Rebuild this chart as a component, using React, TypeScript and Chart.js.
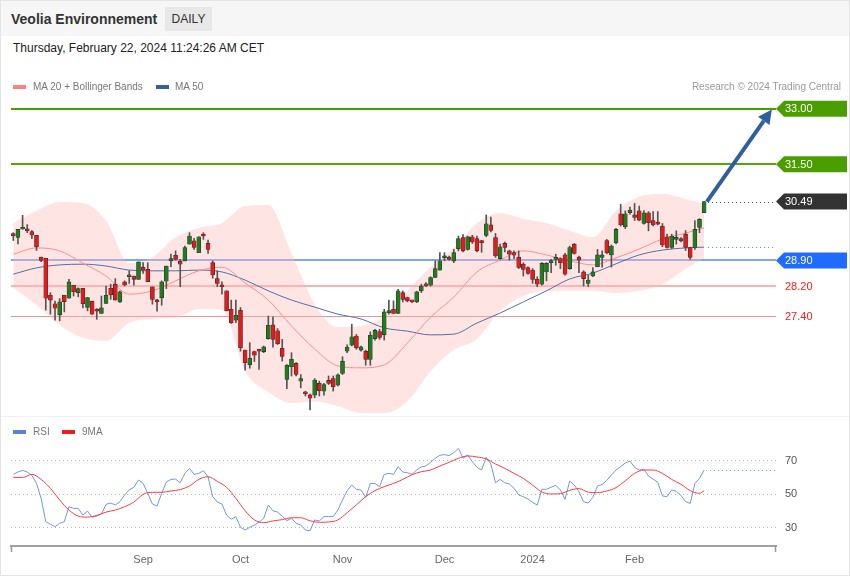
import React, { useEffect, useRef } from 'react';
import { Chart, registerables } from 'chart.js';

Chart.register(...registerables);

const FONT = "'Liberation Sans', Arial, Helvetica, sans-serif";
const NARROW = "'Liberation Sans Narrow', 'Arial Narrow', 'Liberation Sans', Arial, sans-serif";

// ---------- data ----------
const SLOTS = Array.from({ length: 165 }, (_, i) => i);

const OPEN = [29.60,29.52,29.75,29.74,29.68,29.58,28.99,28.96,27.96,27.73,27.43,27.96,27.88,28.23,28.03,28.15,27.63,27.80,27.58,27.47,27.74,28.15,28.26,27.78,28.32,28.46,28.48,28.39,28.72,28.66,28.19,27.81,27.89,28.34,28.89,29.04,28.88,28.89,29.34,29.43,29.11,29.60,29.36,28.84,28.41,28.23,28.08,27.58,27.29,27.55,26.48,26.08,26.44,26.48,26.44,26.79,27.16,27.00,26.53,25.69,26.03,26.12,25.64,25.33,25.27,25.26,25.58,25.37,25.66,25.71,25.53,25.85,26.45,26.61,26.86,26.48,26.45,26.23,26.79,26.98,26.89,27.49,27.58,27.47,28.03,27.90,27.80,27.78,28.08,28.27,28.23,28.44,28.64,28.97,28.99,28.89,29.22,29.52,29.20,29.54,29.49,29.40,29.58,29.86,29.52,28.95,29.36,29.16,29.11,28.99,28.80,28.71,28.64,28.39,28.26,28.59,28.84,28.93,28.95,29.05,28.68,29.34,28.99,28.59,28.28,28.48,28.73,28.98,29.44,29.05,29.38,30.16,29.81,30.19,30.13,30.24,29.90,30.19,29.98,29.93,29.83,29.54,29.25,29.47,29.49,29.61,29.25,29.25,29.79,30.19];
const HIGH = [29.65,29.74,30.12,29.87,29.71,29.58,28.99,28.96,28.03,27.80,27.87,27.96,28.39,28.23,28.16,28.15,27.90,27.80,27.60,27.94,28.21,28.26,28.41,28.08,28.35,28.62,28.48,28.86,28.84,28.84,28.19,27.85,28.35,28.75,29.07,29.16,28.93,29.29,29.65,29.50,29.54,29.65,29.45,28.89,28.62,28.32,28.08,27.83,27.83,27.63,26.48,26.68,26.45,26.50,26.59,27.40,27.38,27.06,26.77,26.09,26.41,26.14,25.82,25.37,25.29,25.71,25.64,25.58,25.78,25.78,25.84,26.30,26.62,27.18,26.90,26.59,26.48,26.97,27.04,27.04,27.58,27.83,27.81,28.12,28.08,27.91,27.82,28.07,28.26,28.30,28.46,28.89,29.11,29.11,29.02,29.20,29.56,29.60,29.56,29.58,29.56,29.44,30.13,30.07,29.63,29.34,29.40,29.18,29.16,29.16,28.84,28.73,28.68,28.46,28.84,28.84,28.93,29.07,28.97,29.09,29.29,29.36,29.02,28.62,28.50,28.71,29.20,29.16,29.47,29.32,29.77,30.42,30.24,30.34,30.44,30.37,30.25,30.22,30.22,30.22,29.90,29.61,29.61,29.70,29.52,29.71,29.26,29.98,30.03,30.49];
const LOW = [29.44,29.35,29.74,29.65,29.49,29.17,28.87,27.56,27.45,27.29,27.27,27.51,27.88,27.94,27.92,27.62,27.54,27.44,27.31,27.47,27.74,27.85,27.83,27.76,28.21,28.28,28.23,28.39,28.55,28.33,27.72,27.53,27.69,28.14,28.73,28.91,28.19,28.89,29.34,29.20,29.11,29.47,29.09,28.42,28.19,27.99,27.54,27.20,27.22,26.45,25.94,25.99,26.17,25.96,26.41,26.77,26.56,26.63,26.18,25.44,25.78,25.78,25.46,25.24,24.86,25.19,25.24,25.26,25.55,25.37,25.51,25.82,26.41,26.59,26.50,26.45,26.07,26.07,26.75,26.77,26.75,27.45,27.47,27.47,27.78,27.78,27.76,27.76,28.03,28.19,28.21,28.44,28.64,28.89,28.91,28.84,29.16,29.13,29.18,29.36,29.13,29.12,29.54,29.67,28.98,28.93,29.13,28.91,28.95,28.68,28.48,28.53,28.28,28.19,28.23,28.35,28.57,28.77,28.68,28.50,28.66,29.07,28.57,28.21,28.19,28.46,28.73,28.72,29.08,28.72,29.35,29.83,29.76,30.15,29.98,29.97,29.88,29.70,29.83,29.86,29.27,29.23,29.22,29.34,29.40,29.17,28.93,29.20,29.65,30.19];
const CLOSE = [29.57,29.74,29.77,29.70,29.59,29.27,28.90,27.88,27.83,27.61,27.78,27.79,28.32,28.05,28.14,27.73,27.90,27.45,27.53,27.62,27.96,27.97,27.83,28.05,28.24,28.48,28.39,28.86,28.64,28.33,27.85,27.78,28.32,28.75,28.95,28.93,28.80,29.25,29.56,29.25,29.54,29.56,29.20,28.51,28.28,28.19,27.54,27.22,27.42,26.54,26.14,26.26,26.34,26.45,26.57,27.15,26.77,26.65,26.31,26.07,26.23,25.82,25.71,25.30,25.18,25.67,25.38,25.55,25.58,25.49,25.81,26.18,26.56,26.84,26.54,26.57,26.23,26.88,27.01,26.82,27.51,27.52,27.47,28.08,27.85,27.81,27.78,28.05,28.21,28.21,28.44,28.68,28.89,29.01,28.93,29.11,29.49,29.16,29.54,29.40,29.16,29.38,29.89,29.71,29.02,29.27,29.25,29.07,29.04,28.71,28.66,28.55,28.39,28.26,28.82,28.82,28.90,28.97,28.84,28.53,29.25,29.09,28.91,28.41,28.37,28.59,29.05,29.05,29.11,29.29,29.74,29.86,30.16,30.26,30.06,29.99,30.19,29.92,29.86,29.88,29.32,29.25,29.56,29.50,29.43,29.25,28.98,29.74,30.01,30.49];

// sampled overlay curves (index -> value)
const BAND_IDX = [0,5,10,15,20,25,30,35,40,45,50,55,60,65,70,75,80,85,90,95,100,105,110,115,120,125,130,135,140,145,149];
const BB_UPPER = [29.91,30.24,30.48,30.45,29.97,28.83,28.99,29.53,29.78,29.91,30.37,30.40,29.10,27.72,27.10,27.13,27.40,28.08,28.72,29.24,29.90,30.18,30.02,29.91,29.70,29.53,30.24,30.62,30.70,30.56,30.43];
const BB_LOWER = [28.16,27.70,27.16,26.81,26.73,27.21,27.32,27.35,27.59,27.56,25.91,25.35,25.05,25.10,24.97,24.78,24.78,25.10,25.91,26.48,26.78,27.54,27.94,28.08,28.08,28.08,28.02,28.08,28.26,28.67,28.96];
const MA20 = [29.07,29.24,29.16,28.83,28.48,27.99,28.08,28.35,28.62,28.72,28.29,27.83,27.13,26.51,26.05,26.00,26.08,26.67,27.37,27.91,28.59,28.91,29.16,29.05,28.89,28.78,28.97,29.21,29.48,29.64,29.78];
const MA50 = [28.53,28.70,28.78,28.80,28.75,28.64,28.62,28.62,28.64,28.59,28.37,28.08,27.83,27.64,27.45,27.32,27.08,26.99,26.89,26.91,27.21,27.48,27.78,28.08,28.40,28.56,28.81,29.05,29.18,29.24,29.26];

const RSI = [61.6,63.0,64.0,63.0,61.0,56.2,47.3,33.4,31.8,30.4,32.4,33.4,42.3,41.3,41.3,37.3,39.7,36.0,36.7,37.9,43.7,44.5,43.3,45.3,49.3,52.3,53.9,58.2,56.2,50.3,43.9,42.7,50.3,57.0,58.6,58.8,56.6,62.2,65.2,61.6,62.2,63.8,60.2,48.3,45.1,43.9,37.3,34.8,36.4,30.0,28.4,30.0,31.4,33.0,35.4,43.3,39.9,39.1,36.7,34.0,35.4,32.4,31.4,28.4,28.0,34.4,33.8,36.4,36.4,36.4,40.3,46.3,51.9,55.3,52.5,52.3,47.9,56.2,56.2,54.2,61.6,62.2,61.6,66.2,63.0,62.6,61.6,64.2,66.0,66.6,68.8,71.2,73.0,73.4,72.8,74.6,77.1,71.2,73.2,69.2,65.8,64.2,71.8,67.8,56.6,58.6,56.6,55.9,53.3,49.3,48.3,46.9,44.9,43.3,52.7,52.7,53.9,55.1,52.3,46.7,57.6,55.2,51.3,45.3,44.5,47.9,54.7,55.6,58.0,61.2,64.2,66.2,68.4,69.6,65.8,64.2,64.6,60.6,58.8,56.8,48.7,48.3,52.3,51.5,49.1,45.3,44.3,56.2,59.2,64.2];
const RSI_MA_IDX = [0,2,4,6,8,10,12,14,16,18,20,22,24,26,28,30,32,34,36,38,40,42,44,46,48,50,52,54,56,58,60,62,64,66,68,70,72,74,76,78,80,82,84,86,88,90,92,94,96,98,100,102,104,106,108,110,112,114,116,118,120,122,124,126,128,130,132,134,136,138,140,142,144,146,148,149];
const RSI_MA = [59.8,59.8,61.6,58.6,53.3,46.3,40.3,36.7,36.1,37.1,39.1,40.3,42.3,45.1,49.7,50.9,50.9,51.7,52.5,54.7,58.6,60.2,57.4,53.9,47.3,39.9,34.4,32.8,33.8,34.6,35.7,35.7,33.9,33.0,33.2,34.4,38.7,43.4,48.3,51.9,54.3,56.2,58.6,61.4,63.2,64.2,66.6,68.8,71.2,72.6,72.0,70.8,67.8,65.2,62.2,59.2,55.2,51.1,49.9,50.1,52.1,53.1,51.0,50.7,51.7,53.7,57.8,62.2,64.2,64.2,62.2,58.6,55.7,51.9,50.3,51.9];

const MONTH_TICK_INDEX = [28, 49, 71, 93, 112, 134];
const MONTH_TICK_LABELS = ['Sep', 'Oct', 'Nov', 'Dec', '2024', 'Feb'];

const LEVELS = [33.0, 31.5, 28.9, 28.2, 27.4];
const LAST_PRICE = 30.49;
const RSI_TICKS = [70, 50, 30];
const ARROW_FROM = { index: 149.6, price: 30.49 };
const ARROW_TO = { index: 163.6, price: 32.98 };

// ---------- styles ----------
const LEVEL_STYLE = [
  { line: '#45a000', w: 2, tag: '#4a9e00' },
  { line: '#55a800', w: 2, tag: '#4a9e00' },
  { line: '#7fa6f2', w: 2, tag: '#1f6bff' },
  { line: '#ffb0b0', w: 2, tag: null },
  { line: '#f39090', w: 1, tag: null },
];

const pts = (idx: number[], vals: number[]) => idx.map((x, k) => ({ x, y: vals[k] }));

function tag(ctx: CanvasRenderingContext2D, x: number, y: number, fill: string, text: string) {
  const h = 16, w = 71;
  ctx.beginPath();
  ctx.moveTo(x, y);
  ctx.lineTo(x + 8, y - h / 2);
  ctx.lineTo(x + w, y - h / 2);
  ctx.lineTo(x + w, y + h / 2);
  ctx.lineTo(x + 8, y + h / 2);
  ctx.closePath();
  ctx.fillStyle = fill;
  ctx.fill();
  ctx.fillStyle = '#fff';
  ctx.font = `11px ${FONT}`;
  ctx.textBaseline = 'middle';
  ctx.textAlign = 'left';
  ctx.fillText(text, x + 9, y + 0.5);
}

function dotted(ctx: CanvasRenderingContext2D, x0: number, x1: number, y: number, color: string) {
  ctx.save();
  ctx.strokeStyle = color;
  ctx.lineWidth = 1;
  ctx.setLineDash([1, 3]);
  ctx.beginPath();
  ctx.moveTo(x0, Math.round(y) + 0.5);
  ctx.lineTo(x1, Math.round(y) + 0.5);
  ctx.stroke();
  ctx.restore();
}

const pricePlugin = {
  id: 'priceDecor',
  beforeDatasetsDraw(chart: any) {
    const { ctx, chartArea: a, scales } = chart;
    const y = scales.y;
    ctx.save();
    LEVELS.forEach((v, k) => {
      const st = LEVEL_STYLE[k];
      const py = Math.round(y.getPixelForValue(v)) + (st.w % 2 ? 0.5 : 0);
      ctx.strokeStyle = st.line;
      ctx.lineWidth = st.w;
      ctx.beginPath();
      ctx.moveTo(a.left, py);
      ctx.lineTo(a.right, py);
      ctx.stroke();
    });
    ctx.restore();
  },
  afterDraw(chart: any) {
    const { ctx, chartArea: a, scales } = chart;
    const x = scales.x, y = scales.y;
    const xLast = x.getPixelForValue(CLOSE.length - 1);
    ctx.save();
    dotted(ctx, xLast + 4, a.right, y.getPixelForValue(LAST_PRICE), '#444');
    dotted(ctx, xLast + 4, a.right, y.getPixelForValue(MA50[MA50.length - 1]), '#6b84b8');

    // arrow
    const x0 = x.getPixelForValue(ARROW_FROM.index), y0 = y.getPixelForValue(ARROW_FROM.price);
    const x1 = x.getPixelForValue(ARROW_TO.index), y1 = y.getPixelForValue(ARROW_TO.price);
    const ang = Math.atan2(y1 - y0, x1 - x0);
    const head = 14, half = 7;
    const bx = x1 - head * Math.cos(ang), by = y1 - head * Math.sin(ang);
    ctx.strokeStyle = '#2f5f9e';
    ctx.fillStyle = '#2f5f9e';
    ctx.lineWidth = 4;
    ctx.beginPath();
    ctx.moveTo(x0, y0);
    ctx.lineTo(bx, by);
    ctx.stroke();
    ctx.beginPath();
    ctx.moveTo(x1, y1);
    ctx.lineTo(bx + half * Math.sin(ang), by - half * Math.cos(ang));
    ctx.lineTo(bx - half * Math.sin(ang), by + half * Math.cos(ang));
    ctx.closePath();
    ctx.fill();

    // tags
    LEVELS.forEach((v, k) => {
      const st = LEVEL_STYLE[k];
      const py = y.getPixelForValue(v);
      if (st.tag) {
        tag(ctx, a.right, py, st.tag, v.toFixed(2));
      } else {
        ctx.fillStyle = '#ff1a1a';
        ctx.font = `11px ${FONT}`;
        ctx.textBaseline = 'middle';
        ctx.textAlign = 'left';
        ctx.fillText(v.toFixed(2), a.right + 9, py + 0.5);
      }
    });
    tag(ctx, a.right, y.getPixelForValue(LAST_PRICE), '#333333', LAST_PRICE.toFixed(2));
    ctx.restore();
  },
};

const rsiPlugin = {
  id: 'rsiDecor',
  beforeDatasetsDraw(chart: any) {
    const { ctx, chartArea: a, scales } = chart;
    RSI_TICKS.forEach((v) => dotted(ctx, a.left, a.right, scales.y.getPixelForValue(v), '#b8b8b8'));
  },
  afterDraw(chart: any) {
    const { ctx, chartArea: a, scales } = chart;
    const x = scales.x, y = scales.y;
    ctx.save();
    const xLast = x.getPixelForValue(RSI.length - 1);
    dotted(ctx, xLast + 2, a.right, y.getPixelForValue(RSI[RSI.length - 1]), '#7b9be6');
    ctx.fillStyle = '#555';
    ctx.font = `11px ${FONT}`;
    ctx.textBaseline = 'middle';
    ctx.textAlign = 'left';
    RSI_TICKS.forEach((v) => ctx.fillText(String(v), a.right + 9, y.getPixelForValue(v) + 0.5));
    // axis end ticks
    ctx.strokeStyle = '#999';
    ctx.lineWidth = 1.5;
    ctx.beginPath();
    ctx.moveTo(a.left + 0.5, a.bottom);
    ctx.lineTo(a.left + 0.5, a.bottom + 6);
    ctx.moveTo(a.right - 0.5, a.bottom);
    ctx.lineTo(a.right - 0.5, a.bottom + 6);
    ctx.stroke();
    ctx.restore();
  },
};

export default function App() {
  const priceRef = useRef<HTMLCanvasElement>(null);
  const rsiRef = useRef<HTMLCanvasElement>(null);

  useEffect(() => {
    document.body.style.margin = '0';
    const up = '#1f7d1f', down = '#e31b1b';
    const bodyColors = CLOSE.map((c, k) => (c >= OPEN[k] ? up : down));
    const lineBase = { pointRadius: 0, borderWidth: 1, cubicInterpolationMode: 'monotone', fill: false } as any;

    const price = new Chart(priceRef.current!, {
      type: 'bar',
      data: {
        labels: SLOTS,
        datasets: [
          { ...lineBase, type: 'line', data: pts(BAND_IDX, BB_UPPER), borderWidth: 0, fill: '+1', backgroundColor: 'rgba(255,185,185,0.38)', order: 6 },
          { ...lineBase, type: 'line', data: pts(BAND_IDX, BB_LOWER), borderWidth: 0, order: 7 },
          { ...lineBase, type: 'line', data: pts(BAND_IDX, MA20), borderColor: '#ff8c8c', order: 3 },
          { ...lineBase, type: 'line', data: pts(BAND_IDX, MA50), borderColor: '#4f6fa8', order: 3 },
          { type: 'bar', data: LOW.map((l, k) => [l, HIGH[k]]), backgroundColor: '#555', barThickness: 1, grouped: false, order: 2 } as any,
          { type: 'bar', data: OPEN.map((o, k) => [o, CLOSE[k]]), backgroundColor: bodyColors, borderColor: '#2e2e2e', borderWidth: 0.6, borderSkipped: false, barThickness: 4, minBarLength: 2, grouped: false, order: 1 } as any,
        ],
      },
      options: {
        animation: false,
        responsive: false,
        events: [],
        layout: { padding: { left: 11, right: 74, top: 0, bottom: 0 } },
        plugins: { legend: { display: false }, tooltip: { enabled: false } },
        scales: {
          x: { type: 'category', offset: true, display: false },
          y: { display: false, min: 24.699, max: 34.315 },
        },
      },
      plugins: [pricePlugin],
    } as any);

    const rsi = new Chart(rsiRef.current!, {
      type: 'line',
      data: {
        labels: SLOTS,
        datasets: [
          { data: RSI, borderColor: '#7096e6', borderWidth: 1, pointRadius: 0, tension: 0, order: 2 },
          { data: pts(RSI_MA_IDX, RSI_MA), borderColor: '#ff3b3b', borderWidth: 1, pointRadius: 0, cubicInterpolationMode: 'monotone', order: 1 },
        ],
      },
      options: {
        animation: false,
        responsive: false,
        events: [],
        layout: { padding: { left: 11, right: 74, top: 0, bottom: 0 } },
        plugins: { legend: { display: false }, tooltip: { enabled: false } },
        scales: {
          x: {
            type: 'category',
            offset: true,
            grid: { display: false, drawTicks: false },
            border: { display: true, color: '#a0a0a0', width: 2 },
            afterFit: (s: any) => { s.height = 30; },
            ticks: {
              autoSkip: false,
              maxRotation: 0,
              minRotation: 0,
              padding: 7,
              color: '#666',
              font: { family: NARROW, size: 11 },
              callback: (_v: any, idx: number) => {
                const k = MONTH_TICK_INDEX.indexOf(idx);
                return k >= 0 ? MONTH_TICK_LABELS[k] : '';
              },
            },
          },
          y: { display: false, min: 18.85, max: 95.85 },
        },
      },
      plugins: [rsiPlugin],
    } as any);

    return () => {
      price.destroy();
      rsi.destroy();
    };
  }, []);

  const legendText: React.CSSProperties = { position: 'absolute', fontSize: 10, color: '#777', lineHeight: '12px' };
  const swatch = (left: number, top: number, color: string): React.CSSProperties => ({
    position: 'absolute', left, top, width: 13, height: 4, background: color,
  });

  return (
    <div style={{ position: 'fixed', left: 0, top: 0, width: 850, height: 576, background: '#fff', overflow: 'hidden', fontFamily: FONT }}>
      <div style={{ position: 'absolute', left: 0, top: 0, width: 850, height: 36, background: '#f6f6f6' }} />
      <div style={{ position: 'absolute', left: 11, top: 11, fontSize: 14, fontWeight: 'bold', color: '#333', lineHeight: '16px' }}>Veolia Environnement</div>
      <div style={{ position: 'absolute', left: 165, top: 7, width: 47, height: 24, background: '#e8e8e8', fontSize: 12, color: '#333', lineHeight: '24px', textAlign: 'center' }}>DAILY</div>
      <div style={{ position: 'absolute', left: 13, top: 41, fontSize: 12, color: '#222', lineHeight: '14px' }}>Thursday, February 22, 2024 11:24:26 AM CET</div>

      <canvas ref={priceRef} width={850} height={356} style={{ position: 'absolute', left: 0, top: 60, width: 850, height: 356 }} />
      <div style={{ position: 'absolute', left: 0, top: 416, width: 850, height: 1, background: '#f0f0f0' }} />
      <canvas ref={rsiRef} width={850} height={159} style={{ position: 'absolute', left: 0, top: 417, width: 850, height: 159 }} />

      <div style={swatch(13, 85, '#ff8080')} />
      <div style={{ ...legendText, left: 33, top: 81 }}>MA 20 + Bollinger Bands</div>
      <div style={swatch(156, 85, '#345fa0')} />
      <div style={{ ...legendText, left: 175, top: 81 }}>MA 50</div>
      <div style={{ ...legendText, right: 9, top: 81, color: '#9a9a9a' }}>Research © 2024 Trading Central</div>

      <div style={swatch(13, 430, '#5a80e0')} />
      <div style={{ ...legendText, left: 33, top: 426 }}>RSI</div>
      <div style={swatch(62, 430, '#ee1c1c')} />
      <div style={{ ...legendText, left: 82, top: 426 }}>9MA</div>

      <div style={{ position: 'absolute', left: 0, top: 0, width: 850, height: 576, border: '1px solid #e4e4e4', boxSizing: 'border-box', pointerEvents: 'none' }} />
    </div>
  );
}
